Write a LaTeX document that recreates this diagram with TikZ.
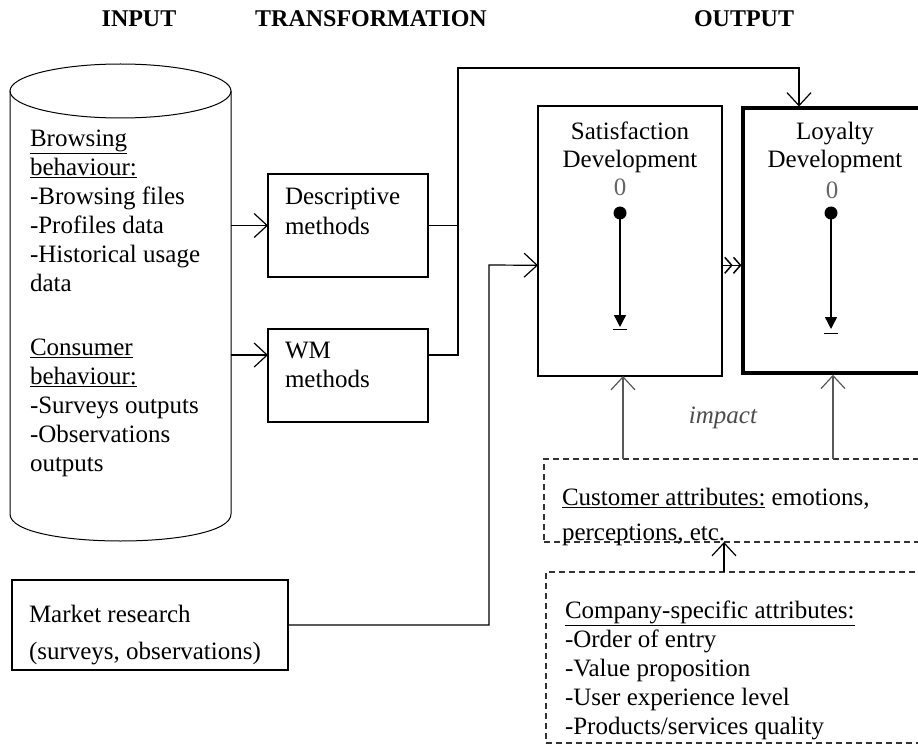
\documentclass[tikz,border=0pt]{standalone}
\usepackage{fontspec}
\setmainfont{Liberation Serif}
\usetikzlibrary{arrows.meta,calc}
\begin{document}
\begin{tikzpicture}[x=1pt,y=-1pt,
  every node/.style={inner sep=0pt, outer sep=0pt},
  txt/.style={font=\fontsize{25}{29}\selectfont, align=left},
  ctxt/.style={font=\fontsize{25}{28}\selectfont, align=center},
  hdr/.style={font=\fontsize{24}{29}\selectfont\bfseries},
  box/.style={draw, line width=1.2pt, rectangle},
  thickbox/.style={draw, line width=3.5pt, rectangle},
  dbox/.style={draw=black!80, line width=1.2pt, dash pattern=on 6pt off 4pt, rectangle},
  conn/.style={line width=1.2pt},
  arr/.style={line width=1.2pt, -{Straight Barb[length=13pt,width=24pt,line width=1.2pt]}},
  garr/.style={arr, draw=black!65},
  dot/.style={circle, fill, minimum size=13pt},
  pin/.style={line width=1.4pt, -{Triangle[length=12pt,width=12pt]}},
  zero/.style={font=\fontsize{25}{29}\selectfont, text=black!60}
]
\useasboundingbox (0,0) rectangle (918,754);
\fill[white] (0,0) rectangle (918,754);
\clip (0,0) rectangle (918,754);

% headers
\node[hdr] (hIn) at (139,19) {INPUT};
\node[hdr] (hTr) at (371,19) {TRANSFORMATION};
\node[hdr] (hOut) at (744,19) {OUTPUT};

% cylinder
\node[minimum width=221pt, minimum height=477pt] (cyl) at (120.5,302.5) {};
\draw[line width=1pt] (10,91) -- (10,514) .. controls (10,550) and (231,550) .. (231,514) -- (231,91);
\draw[line width=1pt] (120.5,91) ellipse [x radius=110.5pt, y radius=27pt];
\node[txt, anchor=north west] (cylT) at (30,130) {\underline{Browsing}\\\underline{behaviour:}\\-Browsing files\\-Profiles data\\-Historical usage\\data\\[35pt]\underline{Consumer}\\\underline{behaviour:}\\-Surveys outputs\\-Observations\\outputs};

% transformation boxes
\node[box, minimum width=160pt, minimum height=103pt] (desc) at (348,225.5) {};
\node[txt, font=\fontsize{25}{30}\selectfont, anchor=north west] (descT) at (285,188) {Descriptive\\methods};
\node[box, minimum width=160pt, minimum height=93pt] (wm) at (348,375.5) {};
\node[txt, anchor=north west] (wmT) at (285,342) {WM\\methods};

% output boxes
\node[box, minimum width=184pt, minimum height=270pt] (sat) at (630,241) {};
\node[ctxt, anchor=north] (satT) at (630,122) {Satisfaction\\Development};
\node[zero] (sat0) at (620,187) {0};
\node[thickbox, minimum width=187pt, minimum height=265pt] (loy) at (836.5,240.5) {};
\node[ctxt, anchor=north] (loyT) at (835,122) {Loyalty\\Development};
\node[zero] (loy0) at (832,190) {0};

% development pins
\node[dot] (d1) at (620,213) {};
\coordinate (e1) at (620,327);
\draw[pin] (d1) -- (e1);
\draw[line width=1pt] ($(e1)+(-7,2.5)$) -- ($(e1)+(7,2.5)$);
\node[dot] (d2) at (831,213) {};
\coordinate (e2) at (831,329);
\draw[pin] (d2) -- (e2);
\draw[line width=1pt] ($(e2)+(-7,4)$) -- ($(e2)+(7,4)$);

% market research
\node[box, minimum width=276pt, minimum height=90pt] (mr) at (150,625) {};
\node[txt, font=\fontsize{25}{37}\selectfont, anchor=north west] (mrT) at (29,605) {Market research\\(surveys, observations)};

% attribute boxes
\node[dbox, minimum width=391pt, minimum height=83pt] (cust) at (739.5,500.5) {};
\node[txt, font=\fontsize{25}{35}\selectfont, anchor=north west] (custT) at (562,488) {\underline{Customer attributes:} emotions,\\perceptions, etc.};
\node[dbox, minimum width=389pt, minimum height=171pt] (comp) at (740.5,657.5) {};
\node[txt, anchor=north west] (compT) at (565,601) {\underline{Company-specific attributes:}\\-Order of entry\\-Value proposition\\-User experience level\\-Products/services quality};

\node[font=\fontsize{25}{29}\selectfont\itshape, text=black!70] (imp) at (723,418) {impact};

% connectors
\draw[arr] (cyl.east |- desc.west) -- (desc.west);
\coordinate (wmin) at ($(wm.north west)!0.28!(wm.south west)$);
\draw[arr] (cyl.east |- wmin) -- (wmin);

\coordinate (busT) at (458,68);
\coordinate (loyIn) at (799,68);
\draw[arr] (desc.east) -| (busT) -- (loyIn) -- ([yshift=1.5pt]loyIn |- loy.north);
\coordinate (wmout) at ($(wm.north east)!0.28!(wm.south east)$);
\draw[conn] (wmout) -| (busT);

\coordinate (mkt) at (489,265);
\coordinate (satin) at ($(sat.north west)!0.59!(sat.south west)$);
\draw[arr] (mr.east) -| (mkt) -- (satin);

\coordinate (satout) at ($(sat.north east)!0.59!(sat.south east)$);
\draw[line width=1.5pt, shorten >=1.5pt, -{Straight Barb[length=7pt,width=16pt]Straight Barb[length=7pt,width=16pt]}] (satout) -- (satout -| loy.west);

\coordinate (i1) at (623,0);
\coordinate (i2) at (833,0);
\coordinate (i3) at (724,0);
\draw[garr] (cust.north -| i1) -- (sat.south -| i1);
\draw[garr, shorten >=1.75pt] (cust.north -| i2) -- (loy.south -| i2);
\draw[arr] (comp.north -| i3) -- (cust.south -| i3);
\end{tikzpicture}
\end{document}
